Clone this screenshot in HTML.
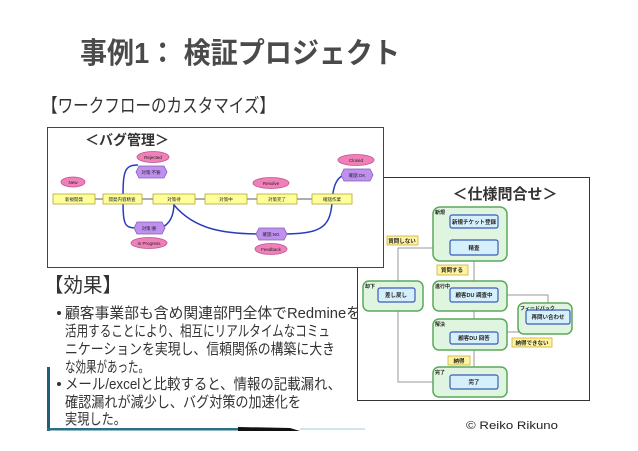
<!DOCTYPE html>
<html><head><meta charset="utf-8"><style>
body{margin:0;width:638px;height:451px;background:#fff;overflow:hidden;position:relative;font-family:"Liberation Sans","Noto Sans CJK JP",sans-serif;}
</style></head><body>
<svg width="638" height="451" style="position:absolute;left:0;top:0" font-family="Liberation Sans, Noto Sans CJK JP, sans-serif">
<text x="80" y="63" font-size="29" font-weight="bold" fill="#4a4a4a" textLength="320" lengthAdjust="spacingAndGlyphs">事例1： 検証プロジェクト</text>
<text x="42" y="112" font-size="19" fill="#333" textLength="233" lengthAdjust="spacingAndGlyphs">【ワークフローのカスタマイズ】</text>
<text x="44" y="292" font-size="20" fill="#333" textLength="78" lengthAdjust="spacingAndGlyphs">【効果】</text>
<g font-size="15" fill="#333">
<circle cx="59" cy="313" r="2" fill="#333"/>
<text x="65" y="318" textLength="296" lengthAdjust="spacingAndGlyphs">顧客事業部も含め関連部門全体でRedmineを</text>
<text x="65" y="336" textLength="265" lengthAdjust="spacingAndGlyphs">活用することにより、相互にリアルタイムなコミュ</text>
<text x="65" y="354" textLength="270" lengthAdjust="spacingAndGlyphs">ニケーションを実現し、信頼関係の構築に大き</text>
<text x="65" y="372" textLength="84" lengthAdjust="spacingAndGlyphs">な効果があった。</text>
<circle cx="59" cy="384" r="2" fill="#333"/>
<text x="65" y="389" textLength="276" lengthAdjust="spacingAndGlyphs">メール/excelと比較すると、情報の記載漏れ、</text>
<text x="65" y="407" textLength="236" lengthAdjust="spacingAndGlyphs">確認漏れが減少し、バグ対策の加速化を</text>
<text x="65" y="424" textLength="61" lengthAdjust="spacingAndGlyphs">実現した。</text>
</g>
<!-- right box -->
<rect x="357.5" y="177.5" width="232" height="223" fill="#fff" stroke="#333" stroke-width="1"/>
<text x="505" y="199" font-size="15" font-weight="bold" text-anchor="middle" fill="#333">＜仕様問合せ＞</text>
<g stroke="#999" fill="none" stroke-width="1">
<line x1="474" y1="228" x2="474" y2="240"/>
<line x1="474" y1="255" x2="474" y2="288"/>
<line x1="474" y1="302" x2="474" y2="332"/>
<line x1="474" y1="344" x2="474" y2="375"/>
<polyline points="450,248 398,248 398,382 450,382"/>
<polyline points="498,332 548,332 548,303"/>
<polyline points="548,303 548,295 498,295"/>
</g>
<g fill="#dff5df" stroke="#5aa85a" stroke-width="1.5">
<rect x="433" y="207" width="74" height="54" rx="7"/>
<rect x="363" y="281" width="60" height="30" rx="6"/>
<rect x="433" y="281" width="74" height="30" rx="6"/>
<rect x="518" y="303" width="54" height="31" rx="6"/>
<rect x="433" y="319" width="74" height="31" rx="6"/>
<rect x="433" y="367" width="74" height="30" rx="6"/>
</g>
<g fill="#d6f0fb" stroke="#3a5bb8" stroke-width="1.2">
<rect x="450" y="215" width="48" height="13" rx="2"/>
<rect x="450" y="240" width="48" height="15" rx="2"/>
<rect x="378" y="288" width="37" height="14" rx="2"/>
<rect x="450" y="288" width="48" height="14" rx="2"/>
<rect x="526" y="310" width="44" height="14" rx="2"/>
<rect x="450" y="332" width="48" height="12" rx="2"/>
<rect x="450" y="375" width="48" height="14" rx="2"/>
</g>
<g fill="#fff3a0" stroke="#c8b040" stroke-width="0.8">
<rect x="387" y="236" width="31" height="9"/>
<rect x="437" y="265" width="31" height="10"/>
<rect x="448" y="356" width="22" height="9"/>
<rect x="512" y="338" width="40" height="9"/>
</g>
<g font-size="5" fill="#222" font-weight="bold">
<text x="435" y="214">新規</text><text x="365" y="288">却下</text><text x="435" y="288">進行中</text>
<text x="520" y="310">フィードバック</text><text x="435" y="326">解決</text><text x="435" y="374">完了</text>
</g>
<g font-size="5.5" fill="#222" text-anchor="middle" font-weight="bold">
<text x="474" y="224">新規チケット登録</text><text x="474" y="250">精査</text><text x="396" y="297">差し戻し</text>
<text x="474" y="297">顧客DU 調査中</text><text x="548" y="319">再問い合わせ</text><text x="474" y="340">顧客DU 回答</text>
<text x="474" y="384">完了</text>
<text x="402" y="243">質問しない</text><text x="452" y="272">質問する</text><text x="459" y="363">納得</text><text x="532" y="345">納得できない</text>
</g>
<!-- left box -->
<rect x="47.5" y="127.5" width="336" height="140" fill="#fff" stroke="#444" stroke-width="1"/>
<text x="85" y="145" font-size="14" font-weight="bold" fill="#333">＜バグ管理＞</text>
<g stroke="#2a3bc0" stroke-width="1.5" fill="none">
<path d="M138,165 C124,165 123,172 123,199 C123,228 125,228 140,228"/>
<path d="M160,228 C170,225 174,215 174,203"/>
<path d="M174,205 C195,230 225,234 262,234"/>
<path d="M282,234 C320,234 330,228 332,203 C333,180 340,175 347,175"/>
</g>
<g stroke="#333" stroke-width="0.8"><line x1="95" y1="199" x2="103" y2="199"/><line x1="142" y1="199" x2="153" y2="199"/><line x1="195" y1="199" x2="205" y2="199"/><line x1="247" y1="199" x2="257" y2="199"/><line x1="297" y1="199" x2="312" y2="199"/></g>
<g fill="#ffff99" stroke="#b8a830" stroke-width="0.8">
<rect x="53" y="194" width="42" height="10"/><rect x="103" y="194" width="39" height="10"/><rect x="153" y="194" width="42" height="10"/>
<rect x="205" y="194" width="42" height="10"/><rect x="257" y="194" width="40" height="10"/><rect x="312" y="194" width="40" height="10"/>
</g>
<g fill="#f080b8" stroke="#c05090" stroke-width="0.8">
<ellipse cx="73" cy="182" rx="12" ry="5"/><ellipse cx="153" cy="157" rx="16" ry="5.5"/><ellipse cx="271" cy="183" rx="18" ry="5.5"/>
<ellipse cx="356" cy="160" rx="18" ry="5.5"/><ellipse cx="149" cy="243" rx="18" ry="5.5"/><ellipse cx="271" cy="249" rx="16" ry="5.5"/>
</g>
<g fill="#c090f0" stroke="#8060b0" stroke-width="0.8">
<polygon points="136,172 139,166 164,166 167,172 164,178 139,178"/>
<polygon points="134,228 137,222 162,222 165,228 162,234 137,234"/>
<polygon points="256,234 259,228 284,228 287,234 284,240 259,240"/>
<polygon points="341,175 344,169 370,169 373,175 370,181 344,181"/>
</g>
<g font-size="4.5" fill="#222" text-anchor="middle">
<text x="74" y="201">新規開発</text><text x="122" y="201">開発内容精査</text><text x="174" y="201">対策待</text><text x="226" y="201">対策中</text><text x="277" y="201">対策完了</text><text x="332" y="201">確認作業</text>
<text x="73" y="184">New</text><text x="153" y="159">Rejected</text><text x="271" y="185">Resolve</text><text x="356" y="162">Closed</text><text x="149" y="245">In Progress</text><text x="271" y="251">Feedback</text>
<text x="151" y="174">対策:不要</text><text x="149" y="230">対策:要</text><text x="271" y="236">確認:NG</text><text x="357" y="177">確認:OK</text>
</g>
<rect x="47" y="367" width="3" height="64" fill="#1f5f78"/>
<rect x="47" y="428" width="195" height="2.5" fill="#2a6f88"/>
<path d="M238,427 L290,428 L300,431 L238,431 Z" fill="#111"/>
<rect x="300" y="428" width="65" height="2" fill="#cfe6f0"/>
<text x="466" y="429" font-size="11" fill="#222" textLength="92" lengthAdjust="spacingAndGlyphs">© Reiko Rikuno</text>
</svg>
</body></html>
